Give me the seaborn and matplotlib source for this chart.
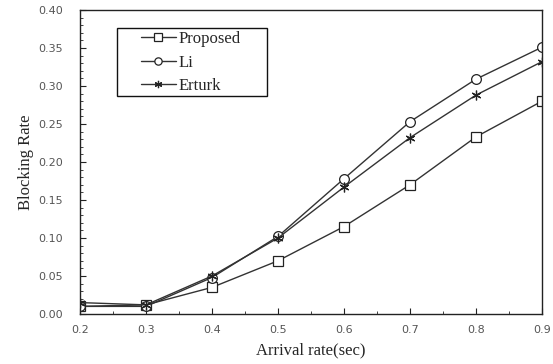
import numpy as np
import pandas as pd
import seaborn as sns
import matplotlib.pyplot as plt
from matplotlib.patches import Rectangle
from matplotlib.ticker import MultipleLocator

# values
arrival = [0.2, 0.3, 0.4, 0.5, 0.6, 0.7, 0.8, 0.9]
proposed = [0.010, 0.012, 0.035, 0.070, 0.115, 0.170, 0.233, 0.280]
li = [0.010, 0.010, 0.048, 0.102, 0.178, 0.253, 0.309, 0.351]
erturk = [0.015, 0.012, 0.050, 0.100, 0.167, 0.232, 0.288, 0.332]

df = pd.DataFrame({
    'Arrival': arrival * 3,
    'Rate': proposed + li + erturk,
    'Scheme': ['Proposed'] * 8 + ['Li'] * 8 + ['Erturk'] * 8,
})

sns.set_style('white')
plt.rcParams['font.family'] = ['Liberation Serif', 'DejaVu Serif']

fig = plt.figure(figsize=(5.53, 3.64), dpi=100)
ax = fig.add_axes([0.1447, 0.1374, 0.8353, 0.8351])

markers = {'Proposed': 's', 'Li': 'o', 'Erturk': (6, 2, 0)}
for name in ['Proposed', 'Li', 'Erturk']:
    sub = df[df['Scheme'] == name]
    sns.lineplot(x='Arrival', y='Rate', data=sub, ax=ax, color='#333333',
                 linewidth=1.0, marker=markers[name], markersize=7,
                 markerfacecolor='white', markeredgecolor='#222222',
                 markeredgewidth=0.9, label=name)

ax.set_xlim(0.2, 0.9)
ax.set_ylim(0.0, 0.40)
ax.xaxis.set_major_locator(MultipleLocator(0.1))
ax.xaxis.set_minor_locator(MultipleLocator(0.05))
ax.yaxis.set_major_locator(MultipleLocator(0.05))
ax.yaxis.set_minor_locator(MultipleLocator(0.01))
ax.set_xticklabels([f'{v:.1f}' for v in ax.get_xticks()])
ax.set_yticklabels([f'{v:.2f}' for v in ax.get_yticks()])
ax.tick_params(axis='both', which='both', direction='in', bottom=True, left=True,
               top=False, right=False, colors='#222222', labelcolor='#555555')
ax.tick_params(which='major', length=4, width=0.8, labelsize=8)
ax.tick_params(which='minor', length=2, width=0.6)
for lab in ax.get_xticklabels() + ax.get_yticklabels():
    lab.set_family('DejaVu Sans')
ax.tick_params(axis='y', pad=12)
ax.tick_params(axis='x', pad=8)

for s in ax.spines.values():
    s.set_color('#222222')
    s.set_linewidth(1.0)

ax.set_xlabel('Arrival rate(sec)', fontsize=12, labelpad=5)
ax.set_ylabel('Blocking Rate', fontsize=12, labelpad=3)

# legend without its own frame; the wider box is drawn separately
leg = ax.legend(loc='upper left', bbox_to_anchor=(0.132, 0.93), borderaxespad=0,
                fontsize=12, frameon=False, handlelength=2.1, borderpad=0,
                labelspacing=0.45, handletextpad=0.15, markerscale=0.75)
ax.add_patch(Rectangle((0.080, 0.717), 0.325, 0.224, transform=ax.transAxes,
                       facecolor='none', edgecolor='#111111', linewidth=1.0,
                       zorder=5))

fig.savefig('out.png', dpi=100)
